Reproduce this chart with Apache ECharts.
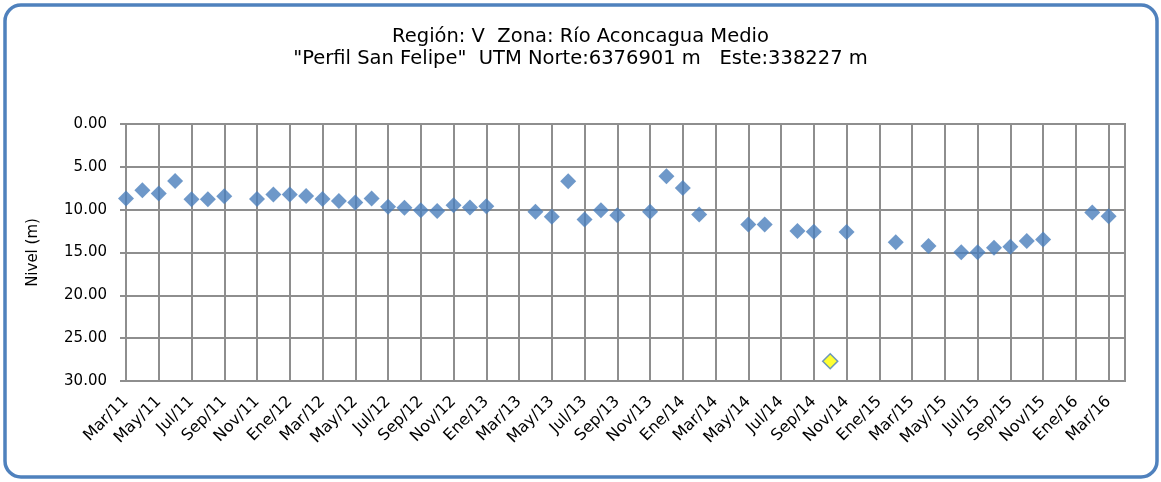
<!DOCTYPE html>
<html>
<head>
<meta charset="utf-8">
<script src="https://cdn.jsdelivr.net/npm/echarts@6/dist/echarts.min.js"></script>
<style>
  html, body { margin: 0; padding: 0; background: #ffffff; }
  #chart { width: 1161px; height: 482px; }
</style>
</head>
<body>
<div id="chart"></div>
<script>
// Monthly sampling dates, Mar/11 .. Abr/16 (Spanish month abbreviations)
const months = [
  'Mar/11','Abr/11','May/11','Jun/11','Jul/11','Ago/11','Sep/11','Oct/11','Nov/11','Dic/11',
  'Ene/12','Feb/12','Mar/12','Abr/12','May/12','Jun/12','Jul/12','Ago/12','Sep/12','Oct/12','Nov/12','Dic/12',
  'Ene/13','Feb/13','Mar/13','Abr/13','May/13','Jun/13','Jul/13','Ago/13','Sep/13','Oct/13','Nov/13','Dic/13',
  'Ene/14','Feb/14','Mar/14','Abr/14','May/14','Jun/14','Jul/14','Ago/14','Sep/14','Oct/14','Nov/14','Dic/14',
  'Ene/15','Feb/15','Mar/15','Abr/15','May/15','Jun/15','Jul/15','Ago/15','Sep/15','Oct/15','Nov/15','Dic/15',
  'Ene/16','Feb/16','Mar/16','Abr/16'
];

// Static water level depth (m); null = no measurement that month
const nivel = [
  8.70, 7.73, 8.12, 6.65, 8.78, 8.78, 8.43, null, 8.75, 8.23,
  8.23, 8.40, 8.75, 8.98, 9.16, 8.70, 9.67, 9.79, 10.06, 10.17, 9.48, 9.74,
  9.59, null, null, 10.25, 10.84, 6.69, 11.14, 10.06, 10.64, null, 10.25, 6.10,
  7.46, 10.56, null, null, 11.72, 11.72, null, 12.50, 12.58, null, 12.60, null,
  null, 13.80, null, 14.24, null, 14.98, 14.98, 14.44, 14.32, 13.66, 13.47, null,
  null, 10.33, 10.76, null
];

// Flagged (out-of-trend) measurement
const nivelAnomalo = [
  null, null, null, null, null, null, null, null, null, null,
  null, null, null, null, null, null, null, null, null, null, null, null,
  null, null, null, null, null, null, null, null, null, null, null, null,
  null, null, null, null, null, null, null, null, null, 27.70, null, null,
  null, null, null, null, null, null, null, null, null, null, null, null,
  null, null, null, null
];

const yTicks = { min: 0, max: 30, interval: 5 };

const titleLines = [
  'Región: V  Zona: Río Aconcagua Medio',
  '"Perfil San Felipe"  UTM Norte:6376901 m   Este:338227 m'
];

const FONT = '"DejaVu Sans", Verdana, sans-serif';
const GRID_COLOR = '#8e8e8e';
const BLUE = '#4A7EBB';

const chart = echarts.init(document.getElementById('chart'), null, { renderer: 'canvas' });

chart.setOption({
  animation: false,
  backgroundColor: '#ffffff',
  title: {
    text: titleLines.join('\n'),
    left: 'center',
    top: 21,
    textStyle: {
      fontFamily: FONT,
      fontSize: 19.5,
      fontWeight: 'normal',
      color: '#000000',
      lineHeight: 22
    }
  },
  graphic: [{
    type: 'rect',
    shape: { x: 5, y: 5, width: 1152, height: 472, r: 16 },
    style: { fill: 'none', stroke: '#4F81BD', lineWidth: 3.5 },
    silent: true
  }],
  grid: {
    left: 126,
    right: 36,
    top: 124,
    bottom: 101,
    show: true,
    borderColor: GRID_COLOR,
    borderWidth: 2,
    backgroundColor: 'transparent'
  },
  xAxis: {
    type: 'category',
    data: months,
    boundaryGap: false,
    axisLine: { show: true, lineStyle: { color: GRID_COLOR, width: 2 } },
    axisTick: { show: true, interval: 1, length: 5, lineStyle: { color: GRID_COLOR, width: 2 } },
    splitLine: { show: true, interval: 1, lineStyle: { color: GRID_COLOR, width: 2 } },
    axisLabel: {
      interval: 1,
      rotate: 45,
      margin: 18,
      fontFamily: FONT,
      fontSize: 16,
      color: '#000000'
    }
  },
  yAxis: {
    type: 'value',
    inverse: true,
    min: yTicks.min,
    max: yTicks.max,
    interval: yTicks.interval,
    name: 'Nivel (m)',
    nameLocation: 'middle',
    nameGap: 85,
    nameRotate: 90,
    nameTextStyle: { fontFamily: FONT, fontSize: 15, color: '#000000' },
    axisLine: { show: true, lineStyle: { color: GRID_COLOR, width: 2 } },
    axisTick: { show: true, length: 6, lineStyle: { color: GRID_COLOR, width: 2 } },
    splitLine: { show: true, lineStyle: { color: GRID_COLOR, width: 2 } },
    axisLabel: {
      margin: 19,
      fontFamily: FONT,
      fontSize: 15,
      color: '#000000',
      formatter: v => v.toFixed(2)
    }
  },
  series: [
    {
      name: 'Nivel',
      type: 'scatter',
      data: nivel.map(v => (v === null ? '-' : v)),
      symbol: 'diamond',
      symbolSize: 16,
      itemStyle: { color: BLUE },
      z: 3
    },
    {
      name: 'Nivel anómalo',
      type: 'scatter',
      data: nivelAnomalo.map(v => (v === null ? '-' : v)),
      symbol: 'diamond',
      symbolSize: 15,
      itemStyle: { color: '#FFFF00', borderColor: BLUE, borderWidth: 1.5 },
      z: 4
    }
  ]
});
</script>
</body>
</html>
